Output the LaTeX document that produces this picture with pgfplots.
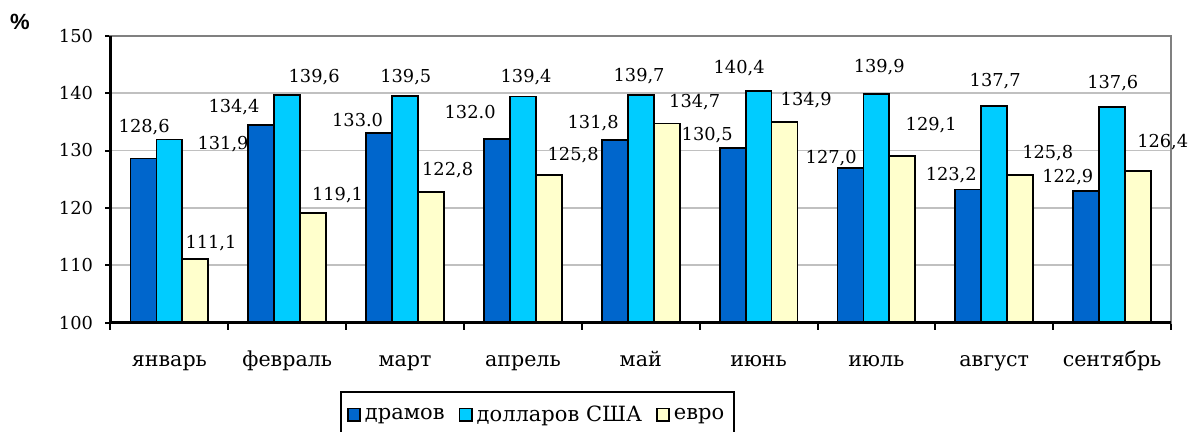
\documentclass[border=0pt]{standalone}
\usepackage{fontspec}
\setmainfont{DejaVu Serif}
\newfontfamily\pctfont{Liberation Sans}
\usepackage{pgfplots}
\pgfplotsset{compat=1.18}
\definecolor{dram}{HTML}{0066CC}
\definecolor{usd}{HTML}{00CCFF}
\definecolor{eur}{HTML}{FFFFCC}
\definecolor{gridc}{HTML}{C0C0C0}
\definecolor{framec}{HTML}{808080}
\begin{document}
\begin{tikzpicture}[font=\fontsize{8.9pt}{10.5pt}\selectfont]
\begin{axis}[
  at={(0,0)}, anchor=south west,
  scale only axis, width=530.25pt, height=143.5pt,
  xmin=-0.5, xmax=8.5, ymin=100, ymax=150,
  clip=false,
  ytick={100,110,...,150},
  xtick={0,...,8},
  xticklabels={январь,февраль,март,апрель,май,июнь,июль,август,сентябрь},
  minor xtick={-0.5,0.5,...,8.5},
  tick pos=left,
  axis line style={framec, line width=1pt},
  ymajorgrids, major grid style={gridc, line width=0.9pt},
  tick align=outside,
  major tick length=2.5pt, minor tick length=3.5pt,
  major x tick style={draw=none},
  minor x tick style={black, line width=1pt},
  ytick style={black, line width=1pt},
  /pgf/number format/assume math mode=true,
  xticklabel style={anchor=base, yshift=-19.2pt, font=\fontsize{10.3pt}{12pt}\selectfont},
  yticklabel style={anchor=east, xshift=-2.75pt},
  legend columns=3,
  legend style={at={(0.2164,-0.238)}, anchor=north west, draw=black, line width=1pt,
    inner xsep=3pt, inner ysep=5pt, font=\fontsize{10.5pt}{12pt}\selectfont,
    /tikz/every even column/.append style={column sep=5pt}},
  legend image code/.code={\draw[#1,draw=black,line width=0.8pt] (0pt,-0.3em) rectangle (0.62em,0.33em);},
]
\addplot[draw=none, mark=none, forget plot, nodes near coords, point meta=explicit symbolic,
  every node near coord/.append style={anchor=center, inner sep=0pt, text=black}]
  table[meta=lab] {
x y lab
-0.214 134.15 128,6
0.455 131.13 131,9
0.353 113.89 111,1
0.548 137.49 134,4
1.228 142.80 139,6
1.427 122.25 119,1
1.597 135.37 133.0
2.006 142.80 139,5
2.361 126.60 122,8
2.552 136.76 132.0
3.027 142.80 139,4
3.426 129.22 125,8
3.596 134.74 131,8
3.986 142.89 139,7
4.458 138.36 134,7
4.564 132.70 130,5
4.835 144.32 140,4
5.404 138.80 134,9
5.616 128.64 127,0
6.024 144.60 139,9
6.465 134.44 129,1
6.635 125.73 123,2
7.008 142.11 137,7
7.454 129.51 125,8
7.624 125.44 122,9
8.006 141.76 137,6
8.430 131.53 126,4
};
\addplot[ybar, bar width=0.22, bar shift=-0.22, fill=dram, draw=black, line width=0.9pt]
  coordinates {(0,128.6) (1,134.4) (2,133.0) (3,132.0) (4,131.8) (5,130.5) (6,127.0) (7,123.2) (8,122.9)};
\addlegendentry{драмов}
\addplot[ybar, bar width=0.22, bar shift=0, fill=usd, draw=black, line width=0.9pt]
  coordinates {(0,131.9) (1,139.6) (2,139.5) (3,139.4) (4,139.7) (5,140.4) (6,139.9) (7,137.7) (8,137.6)};
\addlegendentry{долларов США}
\addplot[ybar, bar width=0.22, bar shift=0.22, fill=eur, draw=black, line width=0.9pt]
  coordinates {(0,111.1) (1,119.1) (2,122.8) (3,125.8) (4,134.7) (5,134.9) (6,129.1) (7,125.8) (8,126.4)};
\addlegendentry{евро}
\draw[black, line width=1.2pt] (rel axis cs:0,1) -- (rel axis cs:0,0) -- (rel axis cs:1,0);
\end{axis}
\node[font=\pctfont\bfseries\fontsize{11pt}{12pt}\selectfont] at (-45.25pt,150.35pt) {\%};
\pgfresetboundingbox
\path[use as bounding box] (-55.25pt,-54.65pt) rectangle (543.25pt,161.35pt);
\end{tikzpicture}
\end{document}
